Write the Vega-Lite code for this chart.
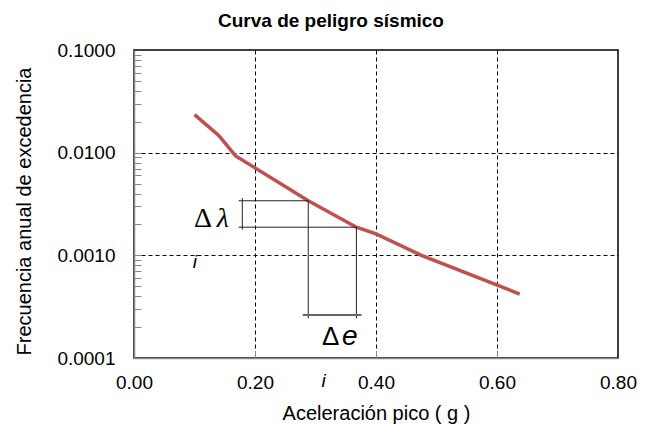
{
  "$schema": "https://vega.github.io/schema/vega-lite/v6.json",
  "width": 484,
  "height": 308,
  "autosize": {"type": "none"},
  "padding": {"left": 134, "top": 50, "right": 38, "bottom": 66},
  "background": "white",
  "config": {"view": {"stroke": "#000", "strokeWidth": 1.5}, "font": "Liberation Sans"},
  "title": {"text": "Curva de peligro sísmico", "fontSize": 19, "fontWeight": "bold", "font": "Liberation Sans", "anchor": "middle", "dx": -45, "offset": 10, "color": "#000"},
  "resolve": {"axis": {"x": "independent", "y": "independent"}},
  "datasets": {
    "curve": [
      {"a": 0.10, "f": 0.0235},
      {"a": 0.14, "f": 0.0147},
      {"a": 0.168, "f": 0.0093},
      {"a": 0.288, "f": 0.0034},
      {"a": 0.3676, "f": 0.00188},
      {"a": 0.40, "f": 0.00162},
      {"a": 0.475, "f": 0.0010},
      {"a": 0.6375, "f": 0.00042}
    ],
    "brackets": [
      {"x": 0.179, "x2": 0.179, "y": 0.00361, "y2": 0.00178},
      {"x": 0.173, "x2": 0.288, "y": 0.0034, "y2": 0.0034},
      {"x": 0.173, "x2": 0.3676, "y": 0.00188, "y2": 0.00188},
      {"x": 0.288, "x2": 0.288, "y": 0.0034, "y2": 0.000243},
      {"x": 0.3676, "x2": 0.3676, "y": 0.00188, "y2": 0.000243}
    ],
    "base": [
      {"x": 0.279, "x2": 0.376, "y": 0.000262, "y2": 0.000262}
    ],
    "deltaL": [
      {"x": 0.1139, "y": 0.00226, "t": "Δ"}
    ],
    "lambda": [
      {"x": 0.1466, "y": 0.00226, "t": "λ"}
    ],
    "deltaE": [
      {"x": 0.3249, "y": 0.000159, "t": "Δ"}
    ],
    "eItal": [
      {"x": 0.3565, "y": 0.000159, "t": "e"}
    ],
    "small": [
      {"x": 0.1005, "y": 0.00086, "t": "i"},
      {"x": 0.3135, "y": 0.0000597, "t": "i"}
    ]
  },
  "layer": [
    {
      "data": {"name": "curve"},
      "mark": {"type": "line", "color": "#C0504D", "strokeWidth": 3.5, "strokeCap": "butt"},
      "encoding": {
        "x": {
          "field": "a", "type": "quantitative",
          "scale": {"domain": [0, 0.8], "nice": false, "zero": false},
          "axis": {
            "orient": "bottom",
            "title": "Aceleración pico  ( g )", "titleFontSize": 20, "titleFontWeight": "normal", "titleColor": "#000", "titleFont": "Liberation Sans", "titlePadding": 11,
            "values": [0, 0.2, 0.4, 0.6, 0.8], "format": ".2f",
            "labelFontSize": 19, "labelColor": "#000", "labelPadding": 15, "labelFlush": false,
            "domainColor": "#888", "domainWidth": 1.5,
            "ticks": false, "tickSize": 0,
            "grid": true, "gridColor": "#000", "gridDash": [4, 3], "gridWidth": 1,
            "gridOpacity": {"condition": {"test": "datum.value > 0.01 && datum.value < 0.79", "value": 1}, "value": 0}
          }
        },
        "y": {
          "field": "f", "type": "quantitative",
          "scale": {"type": "log", "domain": [0.0001, 0.1], "nice": false},
          "axis": {
            "orient": "left",
            "title": "Frecuencia anual de excedencia", "titleFontSize": 20, "titleFontWeight": "normal", "titleColor": "#000", "titleFont": "Liberation Sans", "titlePadding": 22, "titleY": 161,
            "values": [0.0001, 0.001, 0.01, 0.1],
            "format": ".4f",
            "labelOverlap": false, "labelFontSize": 19, "labelColor": "#000", "labelPadding": 19, "labelFlush": false,
            "domainColor": "#888", "domainWidth": 1.5,
            "ticks": false, "tickSize": 0,
            "grid": true, "gridColor": "#000", "gridDash": [4, 3], "gridWidth": 1,
            "gridOpacity": {"condition": {"test": "datum.value > 0.0002 && datum.value < 0.05", "value": 1}, "value": 0}
          }
        }
      }
    },
    {
      "data": {"name": "brackets"},
      "mark": {"type": "rule", "color": "#222", "strokeWidth": 1},
      "encoding": {
        "x": {"field": "x", "type": "quantitative", "axis": null},
        "x2": {"field": "x2"},
        "y": {"field": "y", "type": "quantitative", "axis": null},
        "y2": {"field": "y2"}
      }
    },
    {
      "data": {"name": "base"},
      "mark": {"type": "rule", "color": "#666", "strokeWidth": 2},
      "encoding": {
        "x": {
          "field": "x", "type": "quantitative",
          "axis": {"orient": "bottom", "offset": -7, "tickSize": 7, "ticks": true, "tickColor": "#888", "tickWidth": 1, "domain": false, "labels": false, "grid": false, "title": null, "values": [0.2, 0.4, 0.6]}
        },
        "x2": {"field": "x2"},
        "y": {
          "field": "y", "type": "quantitative",
          "axis": {"orient": "left", "offset": -7, "tickSize": 7, "ticks": true, "tickColor": "#888", "tickWidth": 1, "domain": false, "labels": false, "grid": false, "title": null,
            "values": [0.0002, 0.0003, 0.0004, 0.0005, 0.0006, 0.0007, 0.0008, 0.0009, 0.001, 0.002, 0.003, 0.004, 0.005, 0.006, 0.007, 0.008, 0.009, 0.01, 0.02, 0.03, 0.04, 0.05, 0.06, 0.07, 0.08, 0.09]}
        },
        "y2": {"field": "y2"}
      }
    },
    {
      "data": {"name": "deltaL"},
      "mark": {"type": "text", "font": "Liberation Serif", "fontSize": 28, "color": "#000", "baseline": "middle", "align": "center"},
      "encoding": {
        "x": {"field": "x", "type": "quantitative", "axis": null},
        "y": {"field": "y", "type": "quantitative", "axis": null},
        "text": {"field": "t"}
      }
    },
    {
      "data": {"name": "lambda"},
      "mark": {"type": "text", "font": "Liberation Serif", "fontStyle": "italic", "fontSize": 28, "color": "#000", "baseline": "middle", "align": "center"},
      "encoding": {
        "x": {"field": "x", "type": "quantitative", "axis": null},
        "y": {"field": "y", "type": "quantitative", "axis": null},
        "text": {"field": "t"}
      }
    },
    {
      "data": {"name": "deltaE"},
      "mark": {"type": "text", "font": "Liberation Sans", "fontSize": 26, "color": "#000", "baseline": "middle", "align": "center"},
      "encoding": {
        "x": {"field": "x", "type": "quantitative", "axis": null},
        "y": {"field": "y", "type": "quantitative", "axis": null},
        "text": {"field": "t"}
      }
    },
    {
      "data": {"name": "eItal"},
      "mark": {"type": "text", "font": "Liberation Sans", "fontStyle": "italic", "fontSize": 28, "color": "#000", "baseline": "middle", "align": "center"},
      "encoding": {
        "x": {"field": "x", "type": "quantitative", "axis": null},
        "y": {"field": "y", "type": "quantitative", "axis": null},
        "text": {"field": "t"}
      }
    },
    {
      "data": {"name": "small"},
      "mark": {"type": "text", "font": "Liberation Sans", "fontStyle": "italic", "fontSize": 19, "color": "#000", "baseline": "middle", "align": "center"},
      "encoding": {
        "x": {"field": "x", "type": "quantitative", "axis": null},
        "y": {"field": "y", "type": "quantitative", "axis": null},
        "text": {"field": "t"}
      }
    }
  ]
}
